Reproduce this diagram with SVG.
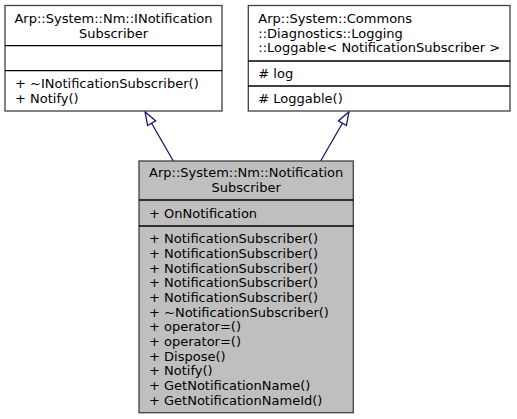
<svg xmlns="http://www.w3.org/2000/svg" width="517" height="419" viewBox="0 0 517 419">
<style>
text{font-family:"DejaVu Sans","Noto Sans",sans-serif;font-size:13px;fill:#000}
.c{text-anchor:middle}
.box{stroke:#404040;stroke-width:1.3}
.sep{stroke:#000;stroke-width:1.3}
.edge{stroke:#191970;stroke-width:1.3;fill:none}
.head{stroke:#191970;stroke-width:1.3;fill:#fff}
</style>
<rect width="517" height="419" fill="#fff"/>
<g id="connectors">
<line class="edge" x1="173.3" y1="161" x2="151.6" y2="123.2"/>
<polygon class="head" points="145,111.7 155.7,120.9 147.6,125.5"/>
<line class="edge" x1="320.7" y1="161" x2="342.4" y2="123.2"/>
<polygon class="head" points="349,111.7 346.4,125.5 338.4,120.9"/>
</g>
<g id="INotificationSubscriber">
<rect class="box" x="5" y="5.5" width="217" height="105.5" fill="#fff"/>
<line class="sep" x1="5" y1="45.7" x2="222" y2="45.7"/>
<line class="sep" x1="5" y1="70.7" x2="222" y2="70.7"/>
<text class="c" x="113.5" y="22.8">Arp::System::Nm::INotification</text>
<text class="c" x="113.5" y="37.5">Subscriber</text>
<text x="15" y="88">+ ~INotificationSubscriber()</text>
<text x="15" y="102.7">+ Notify()</text>
</g>
<g id="Loggable">
<rect class="box" x="248.3" y="5.5" width="261.7" height="105.5" fill="#fff"/>
<line class="sep" x1="248.3" y1="61" x2="510" y2="61"/>
<line class="sep" x1="248.3" y1="86" x2="510" y2="86"/>
<text x="258.3" y="23.1">Arp::System::Commons</text>
<text x="258.3" y="37.8">::Diagnostics::Logging</text>
<text x="258.3" y="52.4">::Loggable&lt; NotificationSubscriber &gt;</text>
<text x="258.3" y="78">#&#160;log</text>
<text x="258.3" y="103">#&#160;Loggable()</text>
</g>
<g id="NotificationSubscriber">
<rect class="box" x="139" y="161" width="214.3" height="251.7" fill="#bfbfbf"/>
<line class="sep" x1="139" y1="200" x2="353.3" y2="200"/>
<line class="sep" x1="139" y1="226" x2="353.3" y2="226"/>
<text class="c" x="246.2" y="177.3">Arp::System::Nm::Notification</text>
<text class="c" x="246.2" y="191.9">Subscriber</text>
<text x="149" y="217.5">+ OnNotification</text>
<text x="149" y="243.2">+ NotificationSubscriber()</text>
<text x="149" y="257.9">+ NotificationSubscriber()</text>
<text x="149" y="272.5">+ NotificationSubscriber()</text>
<text x="149" y="287.2">+ NotificationSubscriber()</text>
<text x="149" y="301.9">+ NotificationSubscriber()</text>
<text x="149" y="316.5">+ ~NotificationSubscriber()</text>
<text x="149" y="331.2">+ operator=()</text>
<text x="149" y="345.9">+ operator=()</text>
<text x="149" y="360.5">+ Dispose()</text>
<text x="149" y="375.2">+ Notify()</text>
<text x="149" y="389.9">+ GetNotificationName()</text>
<text x="149" y="404.5">+ GetNotificationNameId()</text>
</g>
</svg>
